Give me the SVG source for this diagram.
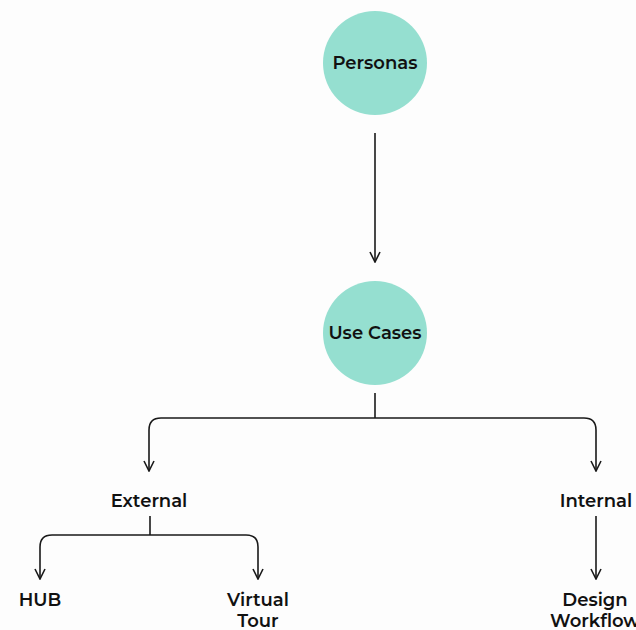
<svg xmlns="http://www.w3.org/2000/svg" width="636" height="630" viewBox="0 0 636 630">
  <style>
    .node-circle { fill: #95dfd0; }
    .label { font-family: "Montserrat", "Inter", "Noto Sans", "Liberation Sans", sans-serif; font-weight: 600; font-size: 18px; fill: #111; text-anchor: middle; dominant-baseline: middle; }
    .edge { fill: none; stroke: #1a1a1a; stroke-width: 1.6; }
  </style>
  <defs>
    <!-- open V arrowhead, drawn along the path direction -->
    <marker id="arrow" viewBox="0 0 12 12" refX="11" refY="6" markerWidth="12" markerHeight="12" markerUnits="userSpaceOnUse" orient="auto">
      <path d="M1,1 L11,6 L1,11" fill="none" stroke="#1a1a1a" stroke-width="1.6"/>
    </marker>
  </defs>
  <rect width="636" height="630" fill="#fdfdfd"/>

  <g id="connectors">
    <path class="edge" d="M375,133 L375,262" marker-end="url(#arrow)"/>
    <path class="edge" d="M375,393 L375,418"/>
    <path class="edge" d="M375,418 L161,418 Q149,418 149,430 L149,471" marker-end="url(#arrow)"/>
    <path class="edge" d="M375,418 L584,418 Q596,418 596,430 L596,471" marker-end="url(#arrow)"/>
    <path class="edge" d="M150,516 L150,535"/>
    <path class="edge" d="M150,535 L52,535 Q40,535 40,547 L40,579" marker-end="url(#arrow)"/>
    <path class="edge" d="M150,535 L246,535 Q258,535 258,547 L258,579" marker-end="url(#arrow)"/>
    <path class="edge" d="M596,516 L596,579" marker-end="url(#arrow)"/>
  </g>

  <g id="personas">
    <circle class="node-circle" cx="375" cy="63" r="52"/>
    <text class="label" x="375" y="64">Personas</text>
  </g>
  <g id="use-cases">
    <circle class="node-circle" cx="375" cy="333" r="52"/>
    <text class="label" x="375" y="334">Use Cases</text>
  </g>
  <g id="external">
    <text class="label" x="149" y="502">External</text>
  </g>
  <g id="internal">
    <text class="label" x="596" y="502">Internal</text>
  </g>
  <g id="hub">
    <text class="label" x="40" y="601">HUB</text>
  </g>
  <g id="virtual-tour">
    <text class="label" x="258" y="601">Virtual</text>
    <text class="label" x="258" y="622">Tour</text>
  </g>
  <g id="design-workflow">
    <text class="label" x="595" y="601">Design</text>
    <text class="label" x="595" y="622">Workflow</text>
  </g>
</svg>
